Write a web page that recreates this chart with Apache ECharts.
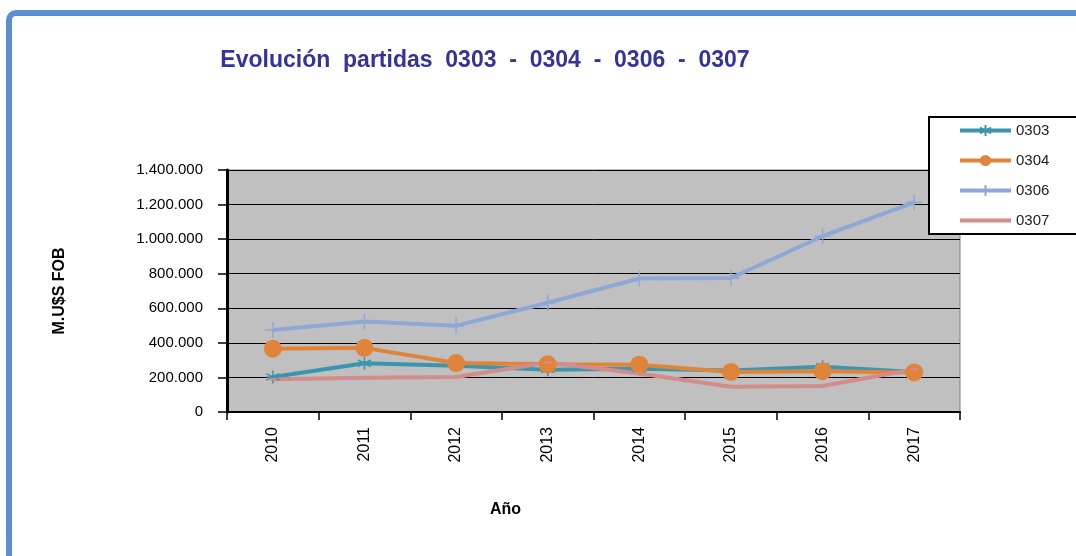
<!DOCTYPE html>
<html>
<head>
<meta charset="utf-8">
<style>html,body{margin:0;padding:0;background:#fff;}#c{width:1076px;height:556px;}</style>
<script src="https://cdn.jsdelivr.net/npm/echarts@6/dist/echarts.min.js"></script>
</head>
<body>
<div id="c"></div>
<script>
const years = ['2010','2011','2012','2013','2014','2015','2016','2017'];
const s0303 = [203000, 282000, 267000, 245000, 250000, 240000, 262000, 232000];
const s0304 = [366000, 371000, 283000, 276000, 274000, 232000, 236000, 229000];
const s0306 = [474000, 523000, 499000, 632000, 772000, 775000, 1017000, 1213000];
const s0307 = [189000, 198000, 203000, 286000, 223000, 146000, 150000, 247000];
const yTicks = {min: 0, max: 1400000, step: 200000};

function fmt(v){ return String(v).replace(/\B(?=(\d{3})+(?!\d))/g, '.'); }

const chart = echarts.init(document.getElementById('c'));
const plus = 'path://M0,5 L10,5 M5,0 L5,10';
const star = 'path://M5,0 L5,10 M0,2.5 L10,7.5 M0,7.5 L10,2.5 M0,5 L10,5';
const dash = 'path://M0,0 M2,4 L8,4 L8,6 L2,6 Z M10,10';
chart.setOption({
  animation: false,
  backgroundColor: '#ffffff',
  textStyle: {fontFamily: 'Liberation Sans, Arial, sans-serif'},
  graphic: [{
    type: 'rect', silent: true, z: -1,
    shape: {x: 9, y: 13, width: 1300, height: 800, r: 7},
    style: {fill: null, stroke: '#5a8fd5', lineWidth: 6}
  }],
  title: {
    text: 'Evolución  partidas  0303  -  0304  -  0306  -  0307',
    left: 480, top: 44, textAlign: 'center',
    textStyle: {fontFamily: 'Liberation Sans, Arial, sans-serif', fontWeight: 'bold', fontSize: 23, color: '#333399'}
  },
  legend: {
    left: 929, top: 117, orient: 'vertical',
    backgroundColor: '#ffffff', borderColor: '#000000', borderWidth: 2,
    padding: [6, 60, 6, 29],
    itemWidth: 51, itemHeight: 14, itemGap: 15,
    lineStyle: {width: 4},
    textStyle: {fontSize: 15, color: '#222', fontFamily: 'Liberation Sans Narrow, Liberation Sans, Arial, sans-serif'},
    data: ['0303','0304','0306','0307']
  },
  grid: {left: 227, right: 116, top: 170, bottom: 144, show: true, backgroundColor: '#c0c0c0', borderColor: '#808080', borderWidth: 1},
  xAxis: {
    type: 'category', data: years, boundaryGap: true,
    name: 'Año', nameLocation: 'middle', nameGap: 90,
    nameTextStyle: {fontWeight: 'bold', fontSize: 16, color: '#000', padding: [0, 176, 0, 0]},
    axisLine: {lineStyle: {color: '#000', width: 2}},
    axisTick: {show: true, length: 8, lineStyle: {color: '#000', width: 1.5}},
    axisLabel: {rotate: 90, margin: 15, fontSize: 16, color: '#000'},
    splitLine: {show: false}
  },
  yAxis: {
    type: 'value', min: yTicks.min, max: yTicks.max, interval: yTicks.step,
    name: 'M.U$S FOB', nameLocation: 'middle', nameGap: 159,
    nameTextStyle: {fontWeight: 'bold', fontSize: 16, color: '#000'},
    axisLine: {show: true, lineStyle: {color: '#000', width: 3}},
    axisTick: {show: true, length: 9, lineStyle: {color: '#000', width: 1.5}},
    axisLabel: {margin: 24, fontSize: 15, color: '#000', formatter: fmt},
    splitLine: {show: true, lineStyle: {color: '#000', width: 1}}
  },
  series: [
    {name: '0303', type: 'line', data: s0303, symbol: star, symbolSize: 13,
     lineStyle: {color: '#3a96ae', width: 4}, itemStyle: {color: '#3a96ae', borderColor: '#3a96ae', borderWidth: 1.5}},
    {name: '0304', type: 'line', data: s0304, symbol: 'circle', symbolSize: 18,
     lineStyle: {color: '#e0843a', width: 4}, itemStyle: {color: '#e0843a', borderWidth: 0}},
    {name: '0306', type: 'line', data: s0306, symbol: plus, symbolSize: 16,
     lineStyle: {color: '#8ea8d6', width: 4}, itemStyle: {color: '#8ea8d6', borderColor: '#8ea8d6', borderWidth: 1.5}},
    {name: '0307', type: 'line', data: s0307, symbol: dash, symbolSize: 12,
     lineStyle: {color: '#d28c8c', width: 4}, itemStyle: {color: '#d28c8c'}}
  ]
});
</script>
</body>
</html>
